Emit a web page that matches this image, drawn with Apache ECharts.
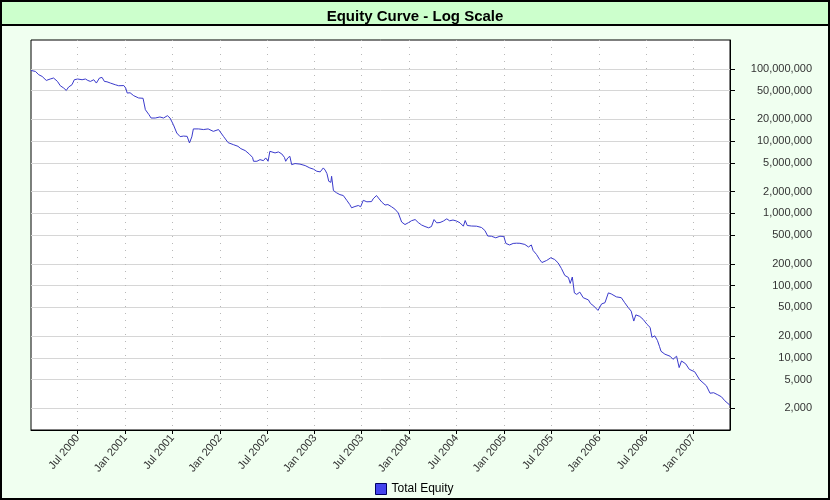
<!DOCTYPE html>
<html>
<head>
<meta charset="utf-8">
<script src="https://cdn.jsdelivr.net/npm/echarts@6/dist/echarts.min.js"></script>
<style>html,body{margin:0;padding:0;background:#f0fff0}#c{width:830px;height:500px}</style>
</head>
<body>
<div id="c"></div>
<script>
var chartTitle = 'Equity Curve - Log Scale';
var seriesName = 'Total Equity';

var dates = [
'2000-01-03','2000-01-20','2000-02-02','2000-02-15','2000-02-21','2000-03-02','2000-03-17','2000-03-30','2000-04-14','2000-04-25',
'2000-05-08','2000-05-18','2000-05-27','2000-06-09','2000-06-18','2000-07-01','2000-07-18','2000-07-31','2000-08-09','2000-08-19',
'2000-09-01','2000-09-11','2000-09-23','2000-10-03','2000-10-12','2000-10-22','2000-11-04','2000-11-23','2000-12-06','2000-12-26',
'2001-01-02','2001-01-08','2001-01-19','2001-02-02','2001-02-21','2001-03-10','2001-03-14','2001-03-19','2001-04-02','2001-04-10',
'2001-04-26','2001-05-14','2001-05-28','2001-06-12','2001-06-22','2001-07-05','2001-07-18','2001-07-31','2001-08-13','2001-08-27',
'2001-09-05','2001-09-14','2001-09-20','2001-10-10','2001-10-29','2001-11-16','2001-12-06','2001-12-26',
'2002-01-02','2002-01-14','2002-02-01','2002-02-21','2002-03-11','2002-03-22','2002-04-08','2002-04-24','2002-05-06','2002-05-10',
'2002-05-23','2002-06-04','2002-06-17','2002-06-26','2002-07-05','2002-07-12','2002-07-19','2002-08-01','2002-08-14','2002-08-27',
'2002-09-06','2002-09-11','2002-09-19','2002-09-27','2002-10-04','2002-10-17','2002-11-05','2002-11-25','2002-12-13','2002-12-27',
'2003-01-09','2003-01-22','2003-02-03','2003-02-10','2003-02-17','2003-02-24','2003-03-04','2003-03-07','2003-03-14','2003-03-26',
'2003-04-08','2003-04-21','2003-05-05','2003-05-16','2003-05-23','2003-06-05','2003-06-18','2003-06-27','2003-07-07','2003-07-21',
'2003-08-08','2003-08-14','2003-08-27','2003-09-03','2003-09-16','2003-09-29','2003-10-10','2003-10-24','2003-11-06','2003-11-19',
'2003-12-02','2003-12-15','2003-12-29',
'2004-01-09','2004-01-23','2004-02-04','2004-02-17','2004-03-01','2004-03-15','2004-03-26','2004-04-05','2004-04-15','2004-04-28',
'2004-05-11','2004-05-24','2004-06-04','2004-06-17','2004-07-01','2004-07-14','2004-07-27','2004-08-03','2004-08-11','2004-08-27',
'2004-09-16','2004-10-05','2004-10-18','2004-10-29','2004-11-12','2004-11-29','2004-12-15','2004-12-30',
'2005-01-07','2005-01-21','2005-02-04','2005-02-17','2005-03-02','2005-03-21','2005-04-04','2005-04-15','2005-04-22','2005-05-05',
'2005-05-17','2005-05-26','2005-06-13','2005-06-29','2005-07-14','2005-07-27','2005-08-09','2005-08-22','2005-09-05','2005-09-12',
'2005-09-20','2005-09-28','2005-10-07','2005-10-19','2005-11-01','2005-11-21','2005-11-29','2005-12-12','2005-12-28',
'2006-01-11','2006-01-24','2006-02-06','2006-02-17','2006-03-09','2006-03-28','2006-04-10','2006-04-24','2006-05-05','2006-05-15',
'2006-05-23','2006-06-07','2006-06-20','2006-07-05','2006-07-17','2006-07-24','2006-08-04','2006-08-14','2006-08-22','2006-08-28',
'2006-09-12','2006-10-02','2006-10-13','2006-10-27','2006-11-06','2006-11-15','2006-12-01','2006-12-15',
'2007-01-05','2007-01-24','2007-02-06','2007-02-19','2007-03-05','2007-03-19','2007-04-04','2007-04-18','2007-05-01','2007-05-21'
];

var equity = [
94.7e6, 91.8e6, 82.6e6, 78.3e6, 82.6e6, 68.9e6, 72.1e6, 74.4e6, 66.8e6, 58.2e6,
54.1e6, 50.1e6, 55.8e6, 60.1e6, 70.5e6, 72.1e6, 70.5e6, 72.1e6, 68.9e6, 66.8e6,
70.5e6, 63.4e6, 74.4e6, 75.8e6, 66.8e6, 66.0e6, 63.4e6, 60.1e6, 58.2e6, 58.5e6,
54.1e6, 46.1e6, 46.5e6, 42.4e6, 39.4e6, 39.0e6, 37.3e6, 27.1e6, 23.1e6, 20.8e6,
20.8e6, 21.5e6, 20.8e6, 22.4e6, 20.8e6, 16.8e6, 12.9e6, 11.5e6, 11.7e6, 11.6e6,
9.40e6, 11.4e6, 14.7e6, 14.7e6, 14.4e6, 14.7e6, 13.6e6, 14.4e6,
14.6e6, 11.6e6, 9.49e6, 8.91e6, 8.44e6, 7.84e6, 7.36e6, 6.58e6, 5.94e6, 5.24e6,
5.24e6, 5.52e6, 5.35e6, 5.83e6, 5.24e6, 7.20e6, 7.60e6, 6.84e6, 7.06e6, 6.62e6,
5.94e6, 5.24e6, 5.83e6, 6.14e6, 4.71e6, 4.87e6, 4.79e6, 4.57e6, 4.24e6, 4.08e6,
3.81e6, 3.74e6, 4.24e6, 3.96e6, 3.54e6, 2.77e6, 2.68e6, 3.25e6, 2.06e6, 1.92e6,
1.81e6, 1.76e6, 1.50e6, 1.32e6, 1.19e6, 1.24e6, 1.28e6, 1.23e6, 1.51e6, 1.44e6,
1.45e6, 1.58e6, 1.76e6, 1.69e6, 1.43e6, 1.30e6, 1.32e6, 1.23e6, 1.14e6, 1.01e6,
756e3, 698e3, 744e3,
788e3, 818e3, 744e3, 687e3, 655e3, 629e3, 655e3, 818e3, 737e3, 744e3,
780e3, 837e3, 786e3, 806e3, 780e3, 737e3, 662e3, 793e3, 677e3, 666e3,
662e3, 635e3, 577e3, 484e3, 481e3, 457e3, 481e3, 477e3,
382e3, 364e3, 382e3, 385e3, 384e3, 370e3, 341e3, 364e3, 305e3, 269e3,
229e3, 208e3, 222e3, 242e3, 229e3, 206e3, 172e3, 138e3, 129e3, 107e3,
131e3, 79.0e3, 75.3e3, 81.0e3, 67.8e3, 63.2e3, 56.5e3, 51.9e3, 45.2e3,
55.6e3, 57.8e3, 79.0e3, 76.5e3, 69.6e3, 67.8e3, 57.8e3, 49.3e3, 44.2e3, 32.2e3,
39.2e3, 37.4e3, 34.0e3, 29.0e3, 26.3e3, 19.2e3, 20.1e3, 17.4e3, 14.4e3, 12.3e3,
11.2e3, 10.5e3, 9.52e3, 10.5e3, 7.31e3, 9.02e3, 8.25e3, 6.92e3,
6.39e3, 4.96e3, 4.51e3, 4.09e3, 3.23e3, 3.28e3, 3.07e3, 2.88e3, 2.54e3, 2.20e3
];

var xTickDates = ['2000-07-01','2001-01-01','2001-07-01','2002-01-01','2002-07-01','2003-01-01','2003-07-01',
                  '2004-01-01','2004-07-01','2005-01-01','2005-07-01','2006-01-01','2006-07-01','2007-01-01'];
var xTickLabels = ['Jul 2000','Jan 2001','Jul 2001','Jan 2002','Jul 2002','Jan 2003','Jul 2003',
                   'Jan 2004','Jul 2004','Jan 2005','Jul 2005','Jan 2006','Jul 2006','Jan 2007'];
var yTickValues = [2000, 5000, 10000, 20000, 50000, 100000, 200000, 500000,
                   1000000, 2000000, 5000000, 10000000, 20000000, 50000000, 100000000];
var yTickLabels = ['2,000','5,000','10,000','20,000','50,000','100,000','200,000','500,000',
                   '1,000,000','2,000,000','5,000,000','10,000,000','20,000,000','50,000,000','100,000,000'];

var xMin = '2000-01-03', xMax = '2007-05-21';
var yMin = 1000, yMax = 2.5e8;

function parseDay(s) { var p = s.split('-'); return Date.UTC(+p[0], +p[1] - 1, +p[2]); }
var xTickTimes = xTickDates.map(parseDay);
var seriesData = dates.map(function (d, i) { return [parseDay(d), equity[i]]; });

function nearestIdx(arr, v, f) {
  var best = 0, bd = Infinity;
  for (var i = 0; i < arr.length; i++) { var dd = Math.abs(f(arr[i]) - f(v)); if (dd < bd) { bd = dd; best = i; } }
  return best;
}

var font = 'Arial, "Liberation Sans", sans-serif';
var chart = echarts.init(document.getElementById('c'), null, { renderer: 'canvas' });
chart.setOption({
  backgroundColor: '#f0fff0',
  animation: false,
  graphic: [
    { type: 'rect', z: 0, shape: { x: 1, y: 1, width: 828, height: 498 }, style: { fill: 'none', stroke: '#000', lineWidth: 2 } },
    { type: 'rect', z: 0, shape: { x: 1, y: 1, width: 828, height: 24 }, style: { fill: '#ccffcc', stroke: '#000', lineWidth: 2 } }
  ],
  title: {
    text: chartTitle, left: 'center', top: 3, z: 10,
    textStyle: { fontFamily: font, fontSize: 15, fontWeight: 'bold', color: '#000', lineHeight: 18 }
  },
  legend: {
    left: 370, top: 478, itemWidth: 11, itemHeight: 11, itemGap: 4,
    textStyle: { fontFamily: font, fontSize: 12, color: '#000' },
    data: [{ name: seriesName, icon: 'rect', itemStyle: { color: '#4444ee', borderColor: '#000066', borderWidth: 1 } }]
  },
  grid: { left: 31, right: 100, top: 40, bottom: 70, containLabel: false, show: true,
          backgroundColor: '#ffffff', borderColor: '#000', borderWidth: 1 },
  xAxis: {
    type: 'value', min: parseDay(xMin), max: parseDay(xMax),
    axisLine: { show: true, lineStyle: { color: '#000', width: 1 } },
    axisTick: { show: true, customValues: xTickTimes, length: 4, lineStyle: { color: '#000' } },
    axisLabel: {
      customValues: xTickTimes, rotate: 50, margin: 6, color: '#333', fontFamily: font, fontSize: 11,
      formatter: function (v) { return xTickLabels[nearestIdx(xTickTimes, v, function (a) { return a; })]; }
    },
    splitLine: { show: true, lineStyle: { color: '#b8b8b8', type: [1, 6], width: 1 } }
  },
  yAxis: {
    type: 'log', logBase: 10, position: 'right', min: yMin, max: yMax,
    axisLine: { show: true, lineStyle: { color: '#000' } },
    axisTick: { show: true, customValues: yTickValues, length: 5, lineStyle: { color: '#000' } },
    axisLabel: {
      customValues: yTickValues, align: 'right', margin: 82, color: '#333', fontFamily: font, fontSize: 11,
      formatter: function (v) { return yTickLabels[nearestIdx(yTickValues, v, Math.log)]; }
    },
    splitLine: { show: true, lineStyle: { color: '#d6d6d6', width: 1 } }
  },
  series: [{
    name: seriesName, type: 'line', data: seriesData, showSymbol: false, symbol: 'none',
    lineStyle: { color: '#3a3acc', width: 1 }, itemStyle: { color: '#3a3acc' }
  }]
});
</script>
</body>
</html>
